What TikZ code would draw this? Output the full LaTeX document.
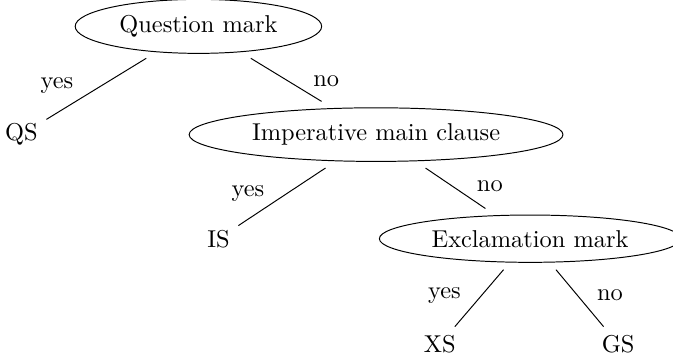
\documentclass[tikz,border=0pt]{standalone}
\usepackage{tikz}
\usetikzlibrary{shapes.geometric}

\begin{document}
\begin{tikzpicture}[
    test/.style={ellipse, draw, outer sep=3.2pt},
    lbl/.style={pos=0.45}]
  % Level heights
  \def\Lone{-0.38}
  \def\Ltwo{-1.94}
  \def\Lthree{-3.44}
  \def\Lfour{-4.96}

  % Frame of the picture
  \useasboundingbox (0,0) rectangle (9.70,-5.13);

  % Tests (ellipses)
  \node[test] (qmark) at (2.86,\Lone) {Question mark};
  \node[test] (imper) at (5.42,\Ltwo) {Imperative main clause};
  \node[test] (excl) at (7.64,\Lthree) {Exclamation mark};

  % Sentence types (leaves)
  \node (qs) at (0.31,\Ltwo) {QS};
  \node (is) at (3.15,\Lthree) {IS};
  \node (xs) at (6.34,\Lfour) {XS};
  \node (gs) at (8.91,\Lfour) {GS};

  % Branches
  \draw (qmark) -- (qs) node[lbl, left=8pt] {yes};
  \draw (qmark) -- (imper) node[lbl, pos=0.52, right=7pt] {no};
  \draw (imper) -- (is) node[lbl, left=5.5pt] {yes};
  \draw (imper) -- (excl) node[lbl, right=6.5pt] {no};
  \draw (excl) -- (xs) node[lbl, left=5pt] {yes};
  \draw (excl) -- (gs) node[lbl, right=4.5pt] {no};
\end{tikzpicture}
\end{document}
